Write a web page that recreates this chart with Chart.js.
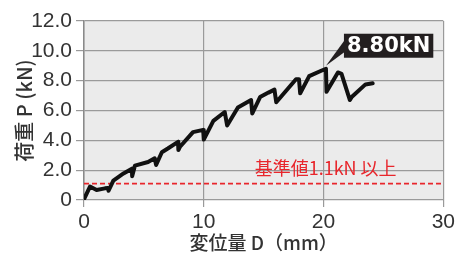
<!DOCTYPE html>
<html lang="ja">
<head>
  <meta charset="utf-8">
  <title>荷重 - 変位量</title>
  <script src="https://cdn.jsdelivr.net/npm/chart.js"></script>
  <style>
    html, body { margin: 0; padding: 0; background: #fff; }
    #wrap { width: 458px; height: 255px; }
  </style>
</head>
<body>
  <div id="wrap"><canvas id="chart" width="458" height="255"></canvas></div>

  <script>
    // displacement D (mm) and load P (kN)
    const displacement = [0, 0.5, 1.05, 1.75, 2.0, 2.05, 2.45, 3.3, 4.0, 4.02, 4.25, 5.35, 5.9, 6.02, 6.5, 7.0, 7.85, 7.88,
      8.0, 9.1, 9.95, 10.0, 10.8, 11.75, 11.95, 12.85, 13.95, 14.05, 14.7, 15.4, 15.9, 16.05, 17.7, 17.95, 18.05,
      18.8, 19.9, 20.2, 20.25, 21.2, 21.5, 22.2, 22.35, 23.5, 24.1];
    const load = [0.05, 0.9, 0.67, 0.78, 0.8, 0.62, 1.3, 1.78, 2.1, 1.6, 2.3, 2.55, 2.8, 2.35, 3.2, 3.45, 3.9, 3.35,
      3.55, 4.55, 4.7, 4.05, 5.3, 5.9, 5.0, 6.2, 6.7, 5.8, 6.9, 7.2, 7.4, 6.55, 8.1, 8.1, 7.15,
      8.3, 8.7, 8.8, 7.25, 8.55, 8.45, 6.7, 6.9, 7.75, 7.82];

    const thresholdLoad = 1.1;
    const thresholdLabel = '基準値1.1kN 以上';

    const xTicks = [0, 10, 20, 30];
    const yTicks = [0, 2, 4, 6, 8, 10, 12];
    const yTickLabels = ['0', '2.0', '4.0', '6.0', '8.0', '10.0', '12.0'];
    const xTitle = '変位量 D（mm）';
    const yTitle = '荷重 P (kN)';

    const tickFont = { family: '"Liberation Sans Narrow", "Liberation Sans", sans-serif', size: 21 };
    const cjkFamily = '"Noto Sans CJK JP", sans-serif';
    const textColor = '#333';
    const gridColor = '#9a9a9a';

    const plotBackground = {
      id: 'plotBackground',
      beforeDraw(chart) {
        const { ctx, chartArea: a } = chart;
        ctx.save();
        ctx.fillStyle = '#ebebeb';
        ctx.fillRect(a.left, a.top, a.right - a.left, a.bottom - a.top);
        ctx.restore();
      }
    };

    const labels = {
      id: 'labels',
      afterDatasetsDraw(chart) {
        const { ctx, scales: { x, y } } = chart;
        ctx.save();

        // threshold text
        ctx.font = '18px ' + cjkFamily;
        ctx.fillStyle = '#e8262c';
        ctx.textAlign = 'right';
        ctx.textBaseline = 'middle';
        ctx.fillText(thresholdLabel, x.getPixelForValue(26.1), y.getPixelForValue(thresholdLoad) - 15);

        // peak callout
        let iMax = 0;
        load.forEach((v, i) => { if (v > load[iMax]) iMax = i; });
        const px = x.getPixelForValue(displacement[iMax]);
        const py = y.getPixelForValue(load[iMax]);
        const text = load[iMax].toFixed(2) + 'kN';
        ctx.font = 'bold 21px "DejaVu Sans", sans-serif';
        const w = ctx.measureText(text).width + 6;
        const bx = px + 18, by = py - 35, bh = 24;
        ctx.fillStyle = '#231f20';
        ctx.beginPath();
        ctx.moveTo(px, py - 3);
        ctx.lineTo(bx + 1, by + 6);
        ctx.lineTo(bx + 1, by + 18);
        ctx.closePath();
        ctx.fill();
        ctx.fillRect(bx, by, w, bh);
        ctx.fillStyle = '#fff';
        ctx.textAlign = 'left';
        ctx.fillText(text, bx + 3, by + bh / 2 + 1);
        ctx.restore();
      }
    };

    new Chart(document.getElementById('chart'), {
      type: 'scatter',
      data: {
        datasets: [
          {
            data: displacement.map((d, i) => ({ x: d, y: load[i] })),
            showLine: true,
            borderColor: '#111',
            borderWidth: 4,
            borderJoinStyle: 'round',
            borderCapStyle: 'round',
            pointRadius: 0,
            tension: 0
          },
          {
            data: [{ x: 0, y: thresholdLoad }, { x: 30, y: thresholdLoad }],
            showLine: true,
            borderColor: '#e8262c',
            borderWidth: 1.8,
            borderDash: [5, 3],
            pointRadius: 0
          }
        ]
      },
      options: {
        responsive: false,
        animation: false,
        devicePixelRatio: 1,
        layout: { padding: { top: 21, right: 14, left: 0, bottom: 0 } },
        plugins: { legend: { display: false }, tooltip: { enabled: false } },
        scales: {
          x: {
            type: 'linear',
            min: 0,
            max: 30,
            afterBuildTicks: s => { s.ticks = xTicks.map(v => ({ value: v })); },
            afterFit: s => { s.height = 55; },
            grid: { color: gridColor, lineWidth: 1.2, tickLength: 7 },
            border: { display: false },
            ticks: { font: tickFont, color: textColor, padding: 3, maxRotation: 0 },
            title: {
              display: true, text: xTitle, color: textColor,
              font: { family: cjkFamily, size: 19, weight: 500, lineHeight: 1.2 },
              padding: { top: 0, bottom: 1 }
            }
          },
          y: {
            min: 0,
            max: 12,
            afterBuildTicks: s => { s.ticks = yTicks.map(v => ({ value: v })); },
            afterFit: s => { s.width = 84; },
            grid: { color: gridColor, lineWidth: 1.2, tickLength: 8 },
            border: { color: '#8a8a8a', width: 1.5 },
            ticks: {
              font: tickFont, color: textColor, padding: 4,
              callback: v => yTickLabels[yTicks.indexOf(v)]
            },
            title: {
              display: true, text: yTitle, color: textColor,
              font: { family: cjkFamily, size: 20, weight: 500, lineHeight: 1.2 },
              padding: { top: 12, bottom: 0 }
            }
          }
        }
      },
      plugins: [plotBackground, labels]
    });
  </script>
</body>
</html>
